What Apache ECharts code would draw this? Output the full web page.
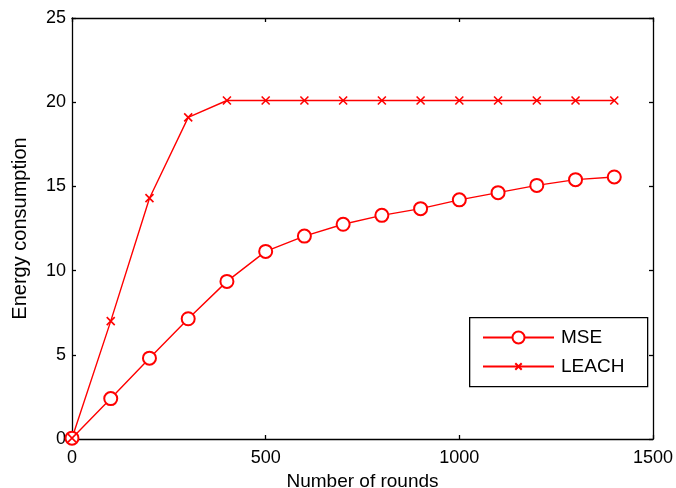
<!DOCTYPE html>
<html><head><meta charset="utf-8">
<script src="https://cdn.jsdelivr.net/npm/echarts@6/dist/echarts.min.js"></script>
<style>html,body{margin:0;padding:0;background:#fff}#c{width:676px;height:488px}</style>
</head><body><div id="c"></div>
<script>
var rounds = [0,100,200,300,400,500,600,700,800,900,1000,1100,1200,1300,1400];
var mse = [0.05,2.4,4.8,7.14,9.36,11.14,12.05,12.75,13.28,13.68,14.2,14.63,15.06,15.4,15.56];
var leach = [0.05,7.0,14.3,19.1,20.1,20.1,20.1,20.1,20.1,20.1,20.1,20.1,20.1,20.1,20.1];

function pairs(xs, ys){ return xs.map(function(x,i){return [x, ys[i]];}); }
var FONT = 'Liberation Sans';
var chart = echarts.init(document.getElementById('c'));
var axLine = {show:true, onZero:false, lineStyle:{color:'#000', width:1.3}};
var tick = {show:true, inside:true, length:4, lineStyle:{color:'#000', width:1.3}};
var legText = {fontFamily:FONT, fontSize:19, color:'#000', padding:[0,0,0,2]};
chart.setOption({
  animation:false,
  grid:{left:72, top:18, right:23, bottom:49, containLabel:false, outerBoundsMode:'none'},
  graphic:[{type:'rect', left:469, top:317, shape:{width:178, height:69},
    style:{fill:'#fff', stroke:'#000', lineWidth:1.3}, z:90}],
  legend:[
    {orient:'horizontal', left:482, top:328, padding:0, itemWidth:71, itemHeight:15,
     textStyle:legText, data:['MSE'], z:100},
    {orient:'horizontal', left:482, top:357, padding:0, itemWidth:71, itemHeight:8,
     textStyle:legText, data:['LEACH'], z:100}
  ],
  xAxis:[
    {type:'value', min:0, max:1500, interval:500, position:'bottom',
     axisLine:axLine, axisTick:tick, splitLine:{show:false},
     axisLabel:{fontFamily:FONT, fontSize:18, color:'#000', margin:10, formatter:function(v){return String(v);}},
     name:'Number of rounds', nameLocation:'middle', nameGap:32,
     nameTextStyle:{fontFamily:FONT, fontSize:19, color:'#000'}},
    {type:'value', min:0, max:1500, interval:500, position:'top',
     axisLine:axLine, axisTick:tick, splitLine:{show:false}, axisLabel:{show:false}}
  ],
  yAxis:[
    {type:'value', min:0, max:25, interval:5, position:'left',
     axisLine:axLine, axisTick:tick, splitLine:{show:false},
     axisLabel:{fontFamily:FONT, fontSize:18, color:'#000', margin:6},
     name:'Energy consumption', nameLocation:'middle', nameGap:42,
     nameTextStyle:{fontFamily:FONT, fontSize:20, color:'#000'}},
    {type:'value', min:0, max:25, interval:5, position:'right',
     axisLine:axLine, axisTick:tick, splitLine:{show:false}, axisLabel:{show:false}}
  ],
  series:[
    {name:'MSE', type:'line', data:pairs(rounds, mse),
     symbol:'emptyCircle', symbolSize:13, showAllSymbol:true,
     lineStyle:{color:'#ff0000', width:1.4},
     itemStyle:{color:'#ff0000', borderColor:'#ff0000', borderWidth:1.4}},
    {name:'LEACH', type:'line', data:pairs(rounds, leach),
     symbol:'path://M0,0L10,10M10,0L0,10', symbolSize:8, showAllSymbol:true,
     lineStyle:{color:'#ff0000', width:1.4},
     itemStyle:{color:'#ff0000', borderColor:'#ff0000', borderWidth:1.6}}
  ]
});
</script></body></html>
